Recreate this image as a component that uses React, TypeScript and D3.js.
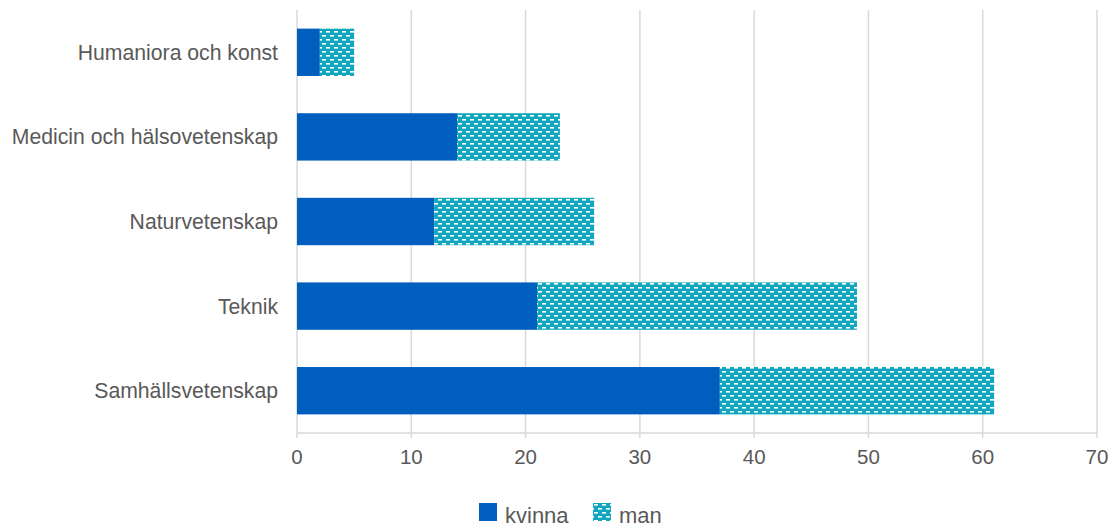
import React, { useEffect, useRef } from "react";
import * as d3 from "d3";

const categories = [
  "Humaniora och konst",
  "Medicin och hälsovetenskap",
  "Naturvetenskap",
  "Teknik",
  "Samhällsvetenskap",
];
const kvinna = [2, 14, 12, 21, 37];
const man = [3, 9, 14, 28, 24];
const xTicks = [0, 10, 20, 30, 40, 50, 60, 70];
const seriesNames = ["kvinna", "man"];

const WIDTH = 1119;
const HEIGHT = 528;
const BLUE = "#005fbe";
const TEAL = "#12a7be";
const FONT = "'Liberation Sans', Arial, sans-serif";

export default function App() {
  const svgRef = useRef<SVGSVGElement>(null);

  useEffect(() => {
    if (!svgRef.current) return;
    const svg = d3.select(svgRef.current);
    svg.selectAll("*").remove();

    const margin = { top: 10, right: 22, bottom: 95, left: 297 };
    const innerWidth = WIDTH - margin.left - margin.right;
    const innerHeight = HEIGHT - margin.top - margin.bottom;

    // brick pattern for "man"
    const defs = svg.append("defs");
    const pat = defs.append("pattern")
      .attr("id", "brick")
      .attr("patternUnits", "userSpaceOnUse")
      .attr("width", 8)
      .attr("height", 8);
    pat.append("rect").attr("width", 8).attr("height", 8).attr("fill", TEAL);
    pat.append("rect").attr("x", 1).attr("y", 1).attr("width", 4).attr("height", 1.6).attr("fill", "#ffffff");
    pat.append("rect").attr("x", 5).attr("y", 5).attr("width", 4).attr("height", 1.6).attr("fill", "#ffffff");
    pat.append("rect").attr("x", -3).attr("y", 5).attr("width", 4).attr("height", 1.6).attr("fill", "#ffffff");

    const g = svg.append("g")
      .attr("transform", `translate(${margin.left}, ${margin.top})`);

    const x = d3.scaleLinear().domain([0, 70]).range([0, innerWidth]);
    const y = d3.scaleBand()
      .domain(categories)
      .range([0, innerHeight])
      .paddingInner(0.44)
      .paddingOuter(0.22);

    // gridlines
    g.append("g")
      .selectAll("line")
      .data(xTicks)
      .join("line")
      .attr("x1", d => x(d))
      .attr("x2", d => x(d))
      .attr("y1", 0)
      .attr("y2", innerHeight + 5)
      .attr("stroke", "#d9d9d9")
      .attr("stroke-width", 1.5);

    // x axis baseline
    g.append("line")
      .attr("x1", 0)
      .attr("x2", innerWidth)
      .attr("y1", innerHeight)
      .attr("y2", innerHeight)
      .attr("stroke", "#d9d9d9")
      .attr("stroke-width", 1.5);

    // bars
    const rows = categories.map((c, i) => ({ c, k: kvinna[i], m: man[i] }));
    g.append("g")
      .selectAll("rect")
      .data(rows)
      .join("rect")
      .attr("x", x(0))
      .attr("y", d => y(d.c)!)
      .attr("width", d => x(d.k) - x(0))
      .attr("height", y.bandwidth())
      .attr("fill", BLUE);

    g.append("g")
      .selectAll("rect")
      .data(rows)
      .join("rect")
      .attr("x", d => x(d.k))
      .attr("y", d => y(d.c)!)
      .attr("width", d => x(d.k + d.m) - x(d.k))
      .attr("height", y.bandwidth())
      .attr("fill", "url(#brick)");

    // x tick labels
    g.append("g")
      .selectAll("text")
      .data(xTicks)
      .join("text")
      .attr("x", d => x(d))
      .attr("y", innerHeight + 31)
      .attr("text-anchor", "middle")
      .attr("font-family", FONT)
      .attr("font-size", 20.5)
      .attr("fill", "#595959")
      .text(d => d);

    // category labels
    g.append("g")
      .selectAll("text")
      .data(categories)
      .join("text")
      .attr("x", -19)
      .attr("y", d => y(d)! + y.bandwidth() / 2)
      .attr("dy", "0.35em")
      .attr("text-anchor", "end")
      .attr("font-family", FONT)
      .attr("font-size", 21.2)
      .attr("fill", "#595959")
      .text(d => d);

    // legend
    const legendX = [479, 593];
    const legend = svg.append("g");
    const items = legend.selectAll("g")
      .data(seriesNames)
      .join("g")
      .attr("transform", (d, i) => `translate(${legendX[i]}, 503)`);
    items.append("rect")
      .attr("width", 18)
      .attr("height", 18)
      .attr("fill", (d, i) => (i === 0 ? BLUE : "url(#brick)"));
    items.append("text")
      .attr("x", 26)
      .attr("y", 19.5)
      .attr("font-family", FONT)
      .attr("font-size", 22)
      .attr("fill", "#595959")
      .text(d => d);
  }, []);

  return (
    <div style={{ position: "fixed", top: 0, left: 0, background: "#fff" }}>
      <svg ref={svgRef} width={WIDTH} height={HEIGHT} style={{ display: "block" }} />
    </div>
  );
}
